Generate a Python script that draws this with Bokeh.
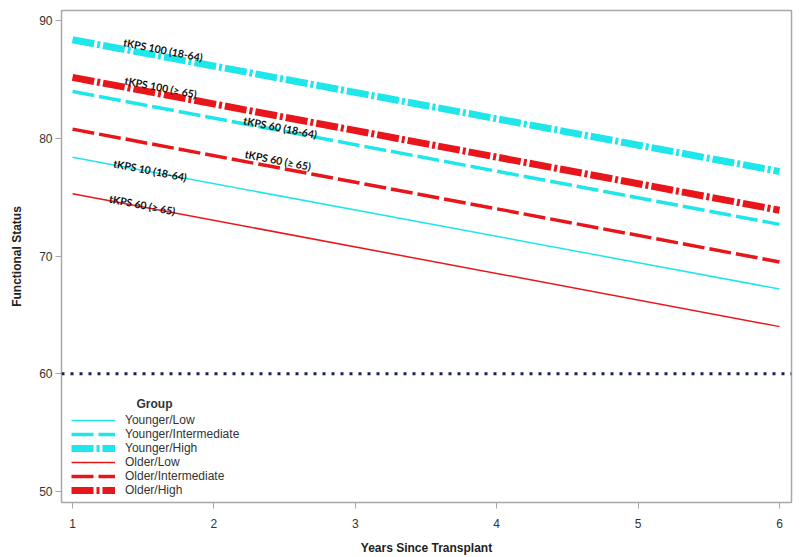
from bokeh.plotting import figure
from bokeh.models import Span, Legend, LegendItem, Label, FixedTicker, ColumnDataSource, Range1d
from bokeh.core.properties import value
from bokeh.embed import file_html
from bokeh.resources import INLINE

years = [1, 6]
younger_low = [78.4, 67.2]
younger_int = [84.0, 72.7]
younger_high = [88.4, 77.2]
older_low = [75.3, 64.0]
older_int = [80.8, 69.5]
older_high = [85.2, 73.9]
reference_level = 60

series_names = ["Younger/Low", "Younger/Intermediate", "Younger/High",
                "Older/Low", "Older/Intermediate", "Older/High"]
series_values = [younger_low, younger_int, younger_high, older_low, older_int, older_high]

label_texts = ["tKPS 100 (18-64)", "tKPS 100 (\u2265 65)", "tKPS 60 (18-64)",
               "tKPS 60 (\u2265 65)", "tKPS 10 (18-64)", "tKPS 60 (\u2265 65)"]
label_x = [1.36, 1.37, 2.21, 2.22, 1.29, 1.26]
label_y = [88.2, 84.95, 81.55, 78.7, 77.9, 74.9]

x_ticks = [1, 2, 3, 4, 5, 6]
y_ticks = [50, 60, 70, 80, 90]

CYAN = "#1fe6ea"
RED = "#e8161b"
styles = [
    (CYAN, 1.5, "solid"),
    (CYAN, 3.5, "22 5"),
    (CYAN, 7, "22 3 3 3"),
    (RED, 1.5, "solid"),
    (RED, 3.5, "22 5"),
    (RED, 7, "22 3 3 3"),
]

p = figure(width=800, height=557, output_backend="svg", toolbar_location=None,
           x_range=Range1d(0.922, 6.085), y_range=Range1d(49.04, 90.89),
           min_border_left=61, min_border_right=9, min_border_top=10, min_border_bottom=54)

p.xgrid.visible = False
p.ygrid.visible = False
p.outline_line_color = "#a8a8a8"
p.outline_line_width = 1.5
p.background_fill_color = "white"

ref = Span(location=reference_level, dimension="width", line_color="#1a2050",
           line_width=3, line_dash="3 6")
p.add_layout(ref)

items = []
for name, vals, (col, w, dash) in zip(series_names, series_values, styles):
    r = p.line(years, vals, line_color=col, line_width=w, line_dash=dash)
    items.append(LegendItem(label=name, renderers=[r]))

src = ColumnDataSource(dict(x=label_x, y=label_y, t=label_texts))
p.text(x="x", y="y", text="t", source=src, angle=-0.195, text_align="left",
       text_baseline="middle", text_font=value("Lato"), text_font_size="10.5px",
       text_font_style="bold", text_color="#111111")

legend = Legend(items=items, location=(10, 5), padding=0, margin=0, spacing=0,
                glyph_width=44, glyph_height=14, label_height=14, label_standoff=10,
                label_text_font="Liberation Sans", label_text_font_size="12px",
                label_text_color="#333333", border_line_color=None,
                background_fill_alpha=0)
p.add_layout(legend, "center")

p.add_layout(Label(x=75, y=92, x_units="screen", y_units="screen", text="Group",
                   text_font="Liberation Sans", text_font_size="12px",
                   text_font_style="bold", text_color="#333333"))

for ax in (p.xaxis[0], p.yaxis[0]):
    ax.axis_line_color = None
    ax.major_tick_line_color = "#a8a8a8"
    ax.major_tick_out = 6
    ax.major_tick_in = 0
    ax.minor_tick_line_color = None
    ax.major_label_text_font = "Liberation Sans"
    ax.major_label_text_font_size = "12px"
    ax.major_label_text_color = "#333333"
    ax.axis_label_text_font = "Liberation Sans"
    ax.axis_label_text_font_size = "12px"
    ax.axis_label_text_font_style = "bold"
    ax.axis_label_text_color = "#222222"

p.xaxis[0].ticker = FixedTicker(ticks=x_ticks)
p.yaxis[0].ticker = FixedTicker(ticks=y_ticks)
p.xaxis[0].axis_label = "Years Since Transplant"
p.yaxis[0].axis_label = "Functional Status"
p.xaxis[0].major_label_standoff = 10
p.xaxis[0].axis_label_standoff = 10
p.yaxis[0].major_label_standoff = 3
p.yaxis[0].axis_label_standoff = 12

open("out.html", "w").write(file_html(p, INLINE))
